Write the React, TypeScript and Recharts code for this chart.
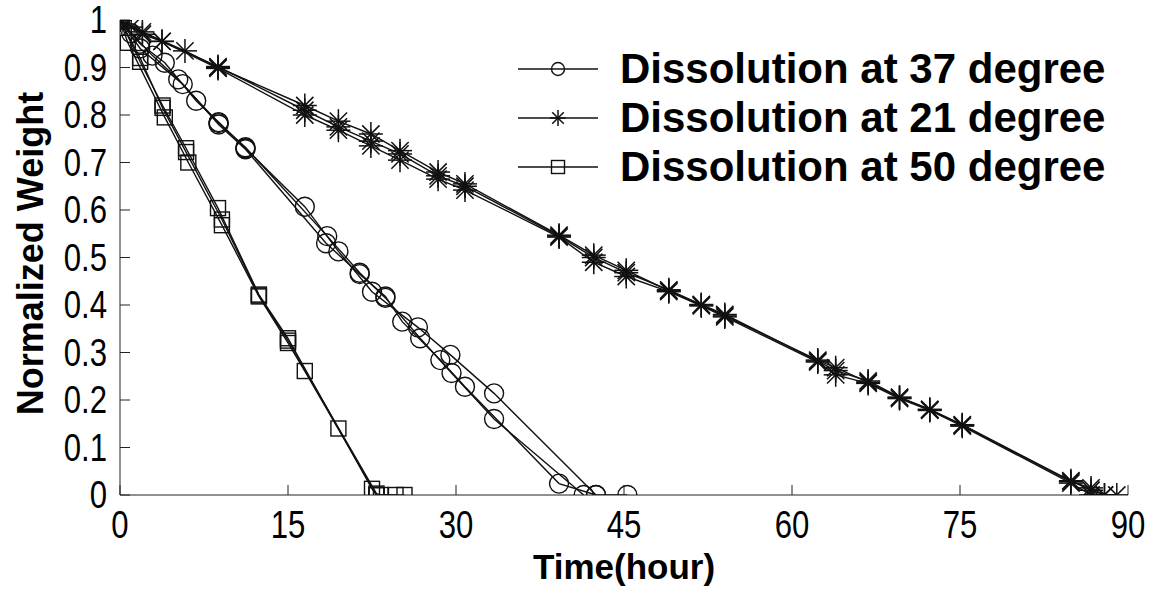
import React from 'react';
import { Legend, Line, LineChart, XAxis, YAxis } from 'recharts';

// time (hour), normalized weight — three runs per temperature
const deg37RunA: [number, number][] = [
  [0, 1], [1.8, 0.95], [4, 0.91], [6.8, 0.83], [8.8, 0.785], [11.2, 0.73], [16.5, 0.607],
  [19.5, 0.513], [22.5, 0.428], [26.6, 0.353], [29.5, 0.295], [33.4, 0.214], [42.5, 0], [45.3, 0],
];
const deg37RunB: [number, number][] = [
  [0, 1], [1, 0.972], [2.9, 0.925], [5.2, 0.875], [8.8, 0.783], [11.2, 0.732], [18.5, 0.545],
  [21.4, 0.468], [23.7, 0.415], [26.8, 0.33], [29.6, 0.257], [33.4, 0.16], [41.4, 0],
];
const deg37RunC: [number, number][] = [
  [0, 1], [1.8, 0.94], [5.6, 0.865], [8.8, 0.78], [11.2, 0.728], [18.4, 0.53], [21.4, 0.465],
  [23.7, 0.418], [25.2, 0.365], [28.6, 0.284], [30.8, 0.228], [39.2, 0.024], [42.5, 0],
];

const deg21RunA: [number, number][] = [
  [0, 1], [2, 0.975], [5.8, 0.935], [8.75, 0.9], [16.5, 0.82], [19.5, 0.787], [22.4, 0.76],
  [25, 0.725], [28.4, 0.68], [30.8, 0.655], [39.2, 0.547], [42.3, 0.505], [45.2, 0.473],
  [49, 0.43], [51.9, 0.4], [54, 0.377], [62.3, 0.284], [63.9, 0.268], [66.8, 0.237],
  [69.6, 0.205], [72.3, 0.18], [75.2, 0.147], [84.9, 0.028], [86.7, 0.015], [87.9, 0],
];
const deg21RunB: [number, number][] = [
  [0, 1], [1, 0.985], [3.75, 0.955], [8.75, 0.898], [16.5, 0.8], [19.5, 0.768], [22.4, 0.735],
  [25, 0.705], [28.4, 0.665], [30.8, 0.642], [39.2, 0.543], [42.3, 0.49], [45.2, 0.46],
  [49, 0.428], [51.9, 0.398], [54, 0.375], [62.3, 0.28], [63.9, 0.253], [66.8, 0.235],
  [69.6, 0.203], [72.3, 0.178], [75.2, 0.145], [84.9, 0.025], [86.7, 0], [89, 0],
];
const deg21RunC: [number, number][] = [
  [0, 1], [2, 0.97], [3.75, 0.955], [8.75, 0.902], [16.5, 0.81], [19.5, 0.775], [22.4, 0.745],
  [25, 0.718], [28.4, 0.672], [30.8, 0.65], [39.2, 0.545], [42.3, 0.5], [45.2, 0.468],
  [49, 0.432], [51.9, 0.401], [54, 0.38], [62.3, 0.282], [63.9, 0.262], [66.8, 0.24],
  [69.6, 0.206], [72.3, 0.18], [75.2, 0.148], [84.9, 0.03], [86.7, 0.01], [87.9, 0],
];

const deg50RunA: [number, number][] = [
  [0, 1], [1.8, 0.912], [3.8, 0.82], [5.9, 0.73], [8.75, 0.604], [12.4, 0.422], [15, 0.33],
  [19.5, 0.14], [22.5, 0.013], [22.9, 0], [24.6, 0],
];
const deg50RunB: [number, number][] = [
  [0, 1], [0.7, 0.952], [4, 0.795], [6.1, 0.7], [9.1, 0.568], [12.4, 0.418], [15, 0.32],
  [16.5, 0.261], [22.9, 0], [25.4, 0],
];
const deg50RunC: [number, number][] = [
  [0, 1], [1.8, 0.92], [3.8, 0.815], [5.9, 0.722], [9.1, 0.58], [12.4, 0.42], [15, 0.325],
  [22.9, 0.003], [23.3, 0],
];

const xTicks = [0, 15, 30, 45, 60, 75, 90];
const yTicks = [0, 0.1, 0.2, 0.3, 0.4, 0.5, 0.6, 0.7, 0.8, 0.9, 1];
const legendLabels = ['Dissolution at 37 degree', 'Dissolution at 21 degree', 'Dissolution at 50 degree'];

const toPoints = (run: [number, number][]) => run.map(([x, y]) => ({ x, y }));

const INK = '#111';
const FONT = '"Liberation Sans", Arial, sans-serif';

type Marker = 'circle' | 'star' | 'square';

function markerSvg(kind: Marker, cx: number, cy: number, s: number, key?: string | number) {
  if (kind === 'circle') {
    return <circle key={key} cx={cx} cy={cy} r={s} fill="none" stroke={INK} strokeWidth={1.4} />;
  }
  if (kind === 'square') {
    return <rect key={key} x={cx - s} y={cy - s} width={2 * s} height={2 * s} fill="none" stroke={INK} strokeWidth={1.4} />;
  }
  const d = s * 0.72;
  return (
    <g key={key} stroke={INK} strokeWidth={1.5}>
      <line x1={cx - s} y1={cy} x2={cx + s} y2={cy} />
      <line x1={cx} y1={cy - s} x2={cx} y2={cy + s} />
      <line x1={cx - d} y1={cy - d} x2={cx + d} y2={cy + d} />
      <line x1={cx - d} y1={cy + d} x2={cx + d} y2={cy - d} />
    </g>
  );
}

const series: { id: string; run: [number, number][]; marker: Marker; size: number }[] = [
  { id: '37a', run: deg37RunA, marker: 'circle', size: 9.5 },
  { id: '37b', run: deg37RunB, marker: 'circle', size: 9.5 },
  { id: '37c', run: deg37RunC, marker: 'circle', size: 9.5 },
  { id: '21a', run: deg21RunA, marker: 'star', size: 12 },
  { id: '21b', run: deg21RunB, marker: 'star', size: 12 },
  { id: '21c', run: deg21RunC, marker: 'star', size: 12 },
  { id: '50a', run: deg50RunA, marker: 'square', size: 7.5 },
  { id: '50b', run: deg50RunB, marker: 'square', size: 7.5 },
  { id: '50c', run: deg50RunC, marker: 'square', size: 7.5 },
];

const legendMarkers: Marker[] = ['circle', 'star', 'square'];

function LegendBox() {
  return (
    <div style={{ fontFamily: FONT, fontWeight: 'bold', fontSize: 42, color: '#000' }}>
      {legendLabels.map((label, i) => (
        <div key={label} style={{ display: 'flex', alignItems: 'center', height: 49, whiteSpace: 'nowrap' }}>
          <svg width={80} height={30} style={{ marginRight: 22 }}>
            <line x1={0} y1={15} x2={80} y2={15} stroke={INK} strokeWidth={1.4} />
            {markerSvg(legendMarkers[i], 40, 15, legendMarkers[i] === 'star' ? 8 : 6.5)}
          </svg>
          <span>{label}</span>
        </div>
      ))}
    </div>
  );
}

function XTick(p: any) {
  return (
    <text transform={`translate(${p.x},${p.y}) scale(0.82,1)`} textAnchor="middle" dy="0.71em"
      style={{ fontSize: 38, fill: '#000', fontFamily: FONT }}>
      {p.payload.value}
    </text>
  );
}

function YTick(p: any) {
  return (
    <text transform={`translate(${p.x},${p.y}) scale(0.82,1)`} textAnchor="end" dy="0.355em"
      style={{ fontSize: 38, fill: '#000', fontFamily: FONT }}>
      {p.payload.value}
    </text>
  );
}

export default function App() {
  return (
    <div style={{ position: 'absolute', left: 0, top: 0, background: '#fff' }}>
      <LineChart width={1152} height={592} margin={{ top: 20, right: 24, bottom: 0, left: 0 }}>
        <XAxis
          dataKey="x"
          type="number"
          domain={[0, 90]}
          ticks={xTicks}
          height={97}
          tickSize={-10}
          tickMargin={26}
          tick={<XTick />}
          stroke="#222"
          allowDataOverflow
          label={{
            content: (p: any) => {
              const vb = p.viewBox;
              return (
                <text x={vb.x + vb.width / 2} y={566} textAnchor="middle" dominantBaseline="central"
                  style={{ fontSize: 35, fontWeight: 'bold', fontFamily: FONT, fill: '#000' }}>
                  Time(hour)
                </text>
              );
            },
          }}
        />
        <XAxis xAxisId="top" orientation="top" type="number" domain={[0, 90]} ticks={xTicks} height={0}
          tickSize={-10} tickFormatter={() => ''} stroke="#222" allowDataOverflow />
        <YAxis
          type="number"
          domain={[0, 1]}
          ticks={yTicks}
          width={120}
          tickSize={-10}
          tickMargin={23}
          tick={<YTick />}
          stroke="#222"
          allowDataOverflow
          label={{
            content: (p: any) => {
              const vb = p.viewBox;
              const cy = vb.y + vb.height / 2;
              return (
                <text x={30} y={cy - 4} transform={`rotate(-90 30 ${cy - 4})`} textAnchor="middle" dominantBaseline="central"
                  style={{ fontSize: 36, fontWeight: 'bold', fontFamily: FONT, fill: '#000' }}>
                  Normalized Weight
                </text>
              );
            },
          }}
        />
        <YAxis yAxisId="right" orientation="right" type="number" domain={[0, 1]} ticks={yTicks} width={0}
          tickSize={-10} tickFormatter={() => ''} stroke="#222" allowDataOverflow />
        <Legend
          layout="vertical"
          align="center"
          verticalAlign="middle"
          wrapperStyle={{ left: 518, top: 44, width: 620 }}
          content={() => <LegendBox />}
        />
        {series.map((s) => (
          <Line
            key={s.id}
            data={toPoints(s.run)}
            dataKey="y"
            name={s.id}
            stroke={INK}
            strokeWidth={1.4}
            isAnimationActive={false}
            legendType="none"
            dot={(p: any) => markerSvg(s.marker, p.cx, p.cy, s.size, `${s.id}-${p.index}`)}
            activeDot={false}
          />
        ))}
      </LineChart>
    </div>
  );
}
